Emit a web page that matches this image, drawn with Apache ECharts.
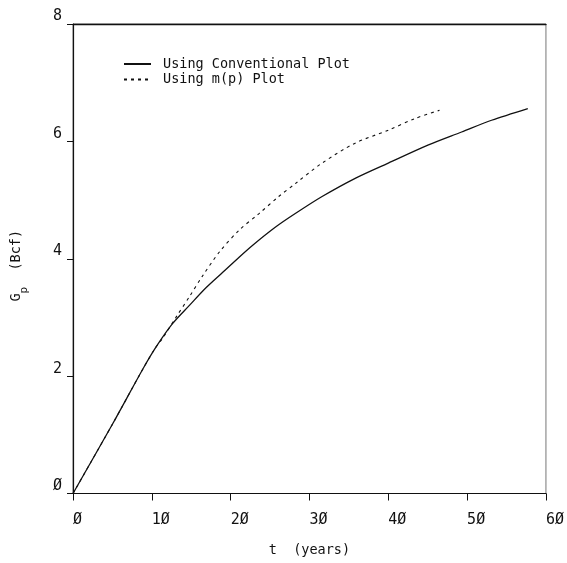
<!DOCTYPE html>
<html>
<head>
<meta charset="utf-8">
<script src="https://cdn.jsdelivr.net/npm/echarts@6/dist/echarts.min.js"></script>
<style>
  html, body { margin: 0; padding: 0; background: #fff; }
  #chart { width: 567px; height: 563px; }
</style>
</head>
<body>
<div id="chart"></div>
<script>
// Cumulative gas production vs time, two interpretation methods
const conventionalT  = [0, 5, 8.9, 10.5, 12.6, 14.8, 16.9, 19.0, 20.7, 22.8, 25.7, 28.2, 31.6, 35.8, 40, 45.1, 49.3, 53.1, 57.7];
const conventionalGp = [0, 1.18, 2.13, 2.49, 2.89, 3.21, 3.51, 3.77, 3.98, 4.23, 4.54, 4.77, 5.06, 5.37, 5.63, 5.94, 6.16, 6.36, 6.56];

const mpT  = [0, 5, 8.9, 10.5, 11.4, 13.1, 14.8, 16.4, 18.6, 21.1, 23.6, 26.1, 28.2, 31.6, 35.8, 40, 43.4, 46.5];
const mpGp = [0, 1.18, 2.13, 2.49, 2.65, 3.01, 3.36, 3.70, 4.12, 4.49, 4.77, 5.06, 5.28, 5.63, 5.97, 6.19, 6.39, 6.53];

const seriesNames = ['Using Conventional Plot', 'Using m(p) Plot'];
const xTicks = { min: 0, max: 60, step: 10 };
const yTicks = { min: 0, max: 8, step: 2 };

const zip = (xs, ys) => xs.map((x, i) => [x, ys[i]]);
// printer-style slashed zeros on tick labels
const slashed = v => String(v).replace(/0/g, '\u00D8');

const mono = 'DejaVu Sans Mono';
const ink = '#111';

const chart = echarts.init(document.getElementById('chart'), null, { renderer: 'canvas' });
chart.setOption({
  backgroundColor: '#fff',
  animation: false,
  color: [ink, ink],
  grid: {
    left: 73, right: 18, top: 24, bottom: 69.5,
    show: true, borderColor: '#777', borderWidth: 1, backgroundColor: 'transparent'
  },
  legend: {
    orient: 'vertical',
    left: 118, top: 52,
    itemWidth: 27, itemHeight: 10, itemGap: 1.5,
    data: seriesNames,
    // line samples only, no marker dot
    itemStyle: { color: 'transparent', borderColor: 'transparent', borderWidth: 0 },
    textStyle: { fontFamily: mono, fontSize: 13.5, color: ink, lineHeight: 14, padding: [0, 0, 0, 7] }
  },
  xAxis: [
    {
      type: 'value',
      min: xTicks.min, max: xTicks.max, interval: xTicks.step,
      name: 't  (years)',
      nameLocation: 'middle', nameGap: 50,
      nameTextStyle: { fontFamily: mono, fontSize: 13.5, color: ink },
      axisLine: { lineStyle: { color: ink, width: 1.2 } },
      axisTick: { show: true, inside: false, length: 7, lineStyle: { color: ink } },
      splitLine: { show: false },
      axisLabel: {
        fontFamily: mono, fontSize: 15, color: ink,
        align: 'left', margin: 19,
        formatter: slashed
      }
    },
    {
      // heavier top edge of the frame
      type: 'value', position: 'top',
      min: xTicks.min, max: xTicks.max, interval: xTicks.step,
      axisLine: { show: true, lineStyle: { color: ink, width: 1.4 } },
      axisTick: { show: false }, axisLabel: { show: false }, splitLine: { show: false }
    }
  ],
  yAxis: {
    type: 'value',
    min: yTicks.min, max: yTicks.max, interval: yTicks.step,
    name: '{a|G}{b|p}{a|  (Bcf)}',
    nameLocation: 'middle', nameGap: 50,
    nameTextStyle: {
      color: ink,
      padding: [0, 14, 0, 0],
      rich: {
        a: { fontFamily: mono, fontSize: 13.5, lineHeight: 14, verticalAlign: 'top', color: ink },
        b: { fontFamily: mono, fontSize: 11, lineHeight: 11, padding: [10, 0, 0, 0], verticalAlign: 'top', color: ink }
      }
    },
    axisLine: { show: true, lineStyle: { color: ink, width: 1.2 } },
    axisTick: { show: true, inside: false, length: 6, lineStyle: { color: ink } },
    splitLine: { show: false },
    axisLabel: {
      fontFamily: mono, fontSize: 15, color: ink,
      margin: 11, verticalAlign: 'bottom', padding: [0, 0, 0, 0],
      formatter: slashed
    }
  },
  series: [
    {
      name: seriesNames[0],
      type: 'line',
      data: zip(conventionalT, conventionalGp),
      symbol: 'none',
      smooth: 0.3,
      z: 3,
      itemStyle: { color: ink },
      lineStyle: { color: ink, width: 1.3, type: 'solid' }
    },
    {
      name: seriesNames[1],
      type: 'line',
      data: zip(mpT, mpGp),
      symbol: 'none',
      smooth: 0.3,
      z: 2,
      itemStyle: { color: ink },
      lineStyle: { color: ink, width: 1.1, type: [3, 4] }
    }
  ]
});
</script>
</body>
</html>
